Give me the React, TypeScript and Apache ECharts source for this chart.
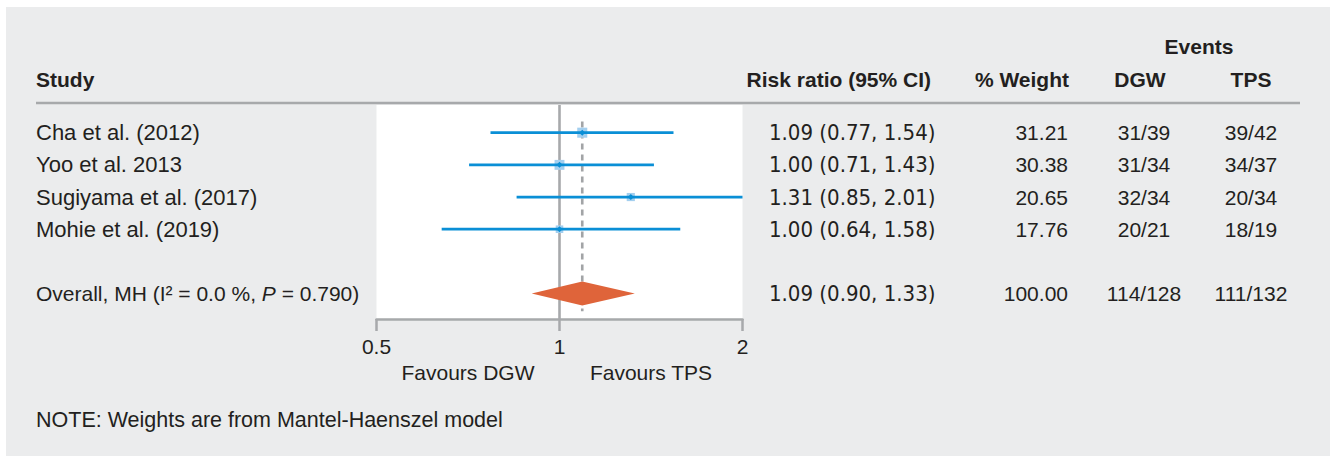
import React, { useEffect, useRef } from "react";
import * as echarts from "echarts";

// ---- data ----
const studies = ["Cha et al. (2012)", "Yoo et al. 2013", "Sugiyama et al. (2017)", "Mohie et al. (2019)"];
const riskRatio = [1.09, 1.0, 1.31, 1.0];
const ciLow = [0.77, 0.71, 0.85, 0.64];
const ciHigh = [1.54, 1.43, 2.01, 1.58];
const weights = [31.21, 30.38, 20.65, 17.76];
const eventsDGW = ["31/39", "31/34", "32/34", "20/21"];
const eventsTPS = ["39/42", "34/37", "20/34", "18/19"];

const overallLabel = "Overall, MH (I\u00B2 = 0.0 %, {i|P} = 0.790)";
const overallRR = 1.09;
const overallLow = 0.9;
const overallHigh = 1.33;
const overallWeight = 100.0;
const overallDGW = "114/128";
const overallTPS = "111/132";

const xTicks = [0.5, 1, 2];
const nullValue = 1;
const overallRow = 5;

// ---- style ----
const FONT = "'Liberation Sans', Arial, sans-serif";
const NUM_FONT = "'Liberation Sans Narrow', 'DejaVu Sans Condensed', sans-serif";
const TEXT = "#231f20";
const GRAY = "#a7a9ab";
const BLUE = "#0a8fd6";
const LIGHT = "#a3cfef";
const ORANGE = "#df643a";
const FS = 21;
const FS_LABEL = 22;

const X_MIN = xTicks[0];
const X_MAX = xTicks[xTicks.length - 1];
const Y_MIN = -0.86;
const Y_MAX = 5.79;

export default function App() {
  const ref = useRef<HTMLDivElement>(null);

  useEffect(() => {
    if (!ref.current) return;
    const chart = echarts.init(ref.current, null, { renderer: "svg" });

    const fmt = (v: number) => v.toFixed(2);
    const tableRows = studies.map((s, i) => ({
      label: s,
      size: FS_LABEL,
      rr: `${fmt(riskRatio[i])} (${fmt(ciLow[i])}, ${fmt(ciHigh[i])})`,
      w: fmt(weights[i]),
      dgw: eventsDGW[i],
      tps: eventsTPS[i],
      row: i,
    }));
    tableRows.push({
      label: overallLabel,
      size: FS,
      rr: `${fmt(overallRR)} (${fmt(overallLow)}, ${fmt(overallHigh)})`,
      w: fmt(overallWeight),
      dgw: overallDGW,
      tps: overallTPS,
      row: overallRow,
    });

    const txt = (text: string, x: number, y: number, align: string, opts: any = {}) => ({
      type: "text",
      x,
      y,
      style: {
        text,
        fill: TEXT,
        fontSize: FS,
        fontFamily: FONT,
        align,
        verticalAlign: "middle",
        ...opts,
      },
    });

    const bold = { fontWeight: "bold" };

    chart.setOption({
      animation: false,
      backgroundColor: "transparent",
      grid: {
        left: 376.5,
        right: 1330 - 742.5,
        top: 105,
        bottom: 456 - 319,
        show: true,
        backgroundColor: "#ffffff",
        borderWidth: 0,
      },
      xAxis: {
        type: "log",
        logBase: 2,
        min: X_MIN,
        max: X_MAX,
        position: "bottom",
        axisLine: { show: true, onZero: false, lineStyle: { color: GRAY, width: 2.5 } },
        axisTick: { show: true, length: 12, lineStyle: { color: GRAY, width: 2.5 } },
        axisLabel: {
          color: TEXT,
          fontSize: FS,
          fontFamily: FONT,
          margin: 17,
          formatter: (v: number) => String(v),
        },
        splitLine: { show: false },
      },
      yAxis: {
        type: "value",
        min: Y_MIN,
        max: Y_MAX,
        inverse: true,
        show: false,
        splitLine: { show: false },
      },
      graphic: [
        {
          type: "line",
          shape: { x1: 36, y1: 103, x2: 1300, y2: 103 },
          style: { stroke: GRAY, lineWidth: 2.5 },
          z: 10,
        },
        txt("Events", 1199, 46, "center", bold),
        txt("Study", 36, 79, "left", bold),
        txt("Risk ratio (95% CI)", 931, 79, "right", bold),
        txt("% Weight", 1069, 79, "right", bold),
        txt("DGW", 1140, 79, "center", bold),
        txt("TPS", 1251, 79, "center", bold),
        txt("Favours DGW", 468, 372, "center"),
        txt("Favours TPS", 651, 372, "center"),
        txt("NOTE: Weights are from Mantel-Haenszel model", 36, 420, "left", { fontSize: 21.5 }),
      ],
      series: [
        // reference lines and overall diamond
        {
          type: "custom",
          coordinateSystem: "cartesian2d",
          encode: { x: 1, y: 0 },
          data: [[overallRow, overallRR, overallLow, overallHigh]],
          renderItem: (params: any, api: any) => {
            const row = api.value(0);
            const est = api.value(1);
            const lo = api.value(2);
            const hi = api.value(3);
            const nTop = api.coord([nullValue, Y_MIN]);
            const nBot = api.coord([nullValue, Y_MAX]);
            const dTop = api.coord([est, -0.35]);
            const dBot = api.coord([est, 5.55]);
            const c = api.coord([est, row]);
            const l = api.coord([lo, row]);
            const h = api.coord([hi, row]);
            return {
              type: "group",
              children: [
                {
                  type: "line",
                  shape: { x1: nTop[0], y1: nTop[1], x2: nBot[0], y2: nBot[1] },
                  style: { stroke: GRAY, lineWidth: 2.6 },
                },
                {
                  type: "line",
                  shape: { x1: dTop[0], y1: dTop[1], x2: dBot[0], y2: dBot[1] },
                  style: { stroke: "#a2a4a6", lineWidth: 2.6, lineDash: [6, 5] },
                },
                {
                  type: "polygon",
                  shape: {
                    points: [
                      [l[0], c[1]],
                      [c[0], c[1] - 12],
                      [h[0], c[1]],
                      [c[0], c[1] + 12],
                    ],
                  },
                  style: { fill: ORANGE },
                },
              ],
            };
          },
          z: 2,
        },
        // study estimates
        {
          type: "custom",
          coordinateSystem: "cartesian2d",
          encode: { x: 1, y: 0 },
          data: studies.map((_, i) => [i, riskRatio[i], ciLow[i], ciHigh[i], weights[i]]),
          renderItem: (params: any, api: any) => {
            const row = api.value(0);
            const est = api.value(1);
            const lo = Math.max(api.value(2), X_MIN);
            const hi = Math.min(api.value(3), X_MAX);
            const w = api.value(4);
            const c = api.coord([est, row]);
            const l = api.coord([lo, row]);
            const h = api.coord([hi, row]);
            const s = 1.8 * Math.sqrt(w);
            const d = 3;
            return {
              type: "group",
              children: [
                {
                  type: "rect",
                  shape: { x: c[0] - s / 2, y: c[1] - s / 2, width: s, height: s },
                  style: { fill: LIGHT },
                },
                {
                  type: "line",
                  shape: { x1: l[0], y1: c[1], x2: h[0], y2: c[1] },
                  style: { stroke: BLUE, lineWidth: 2.7 },
                },
                {
                  type: "polygon",
                  shape: {
                    points: [
                      [c[0] - d, c[1]],
                      [c[0], c[1] - d],
                      [c[0] + d, c[1]],
                      [c[0], c[1] + d],
                    ],
                  },
                  style: { fill: BLUE },
                },
              ],
            };
          },
          z: 3,
        },
        // table texts
        {
          type: "custom",
          coordinateSystem: "cartesian2d",
          encode: { x: 0, y: 1 },
          clip: false,
          data: tableRows.map((r) => [nullValue, r.row]),
          renderItem: (params: any, api: any) => {
            const r = tableRows[params.dataIndex];
            const y = api.coord([nullValue, api.value(1)])[1];
            const t = (text: string, x: number, align: string, extra: any = {}) => ({
              type: "text",
              x,
              y,
              style: {
                text,
                fill: TEXT,
                fontSize: FS,
                fontFamily: FONT,
                align,
                verticalAlign: "middle",
                ...extra,
              },
            });
            return {
              type: "group",
              children: [
                t(r.label, 36, "left", {
                  fontSize: r.size,
                  rich: { i: { fontStyle: "italic", fontSize: r.size, fontFamily: FONT, fill: TEXT } },
                }),
                t(r.rr, 769, "left", { fontFamily: NUM_FONT, fontSize: 22 }),
                t(r.w, 1068, "right"),
                t(r.dgw, 1144, "center"),
                t(r.tps, 1251, "center"),
              ],
            };
          },
          z: 4,
        },
      ],
    });

    return () => chart.dispose();
  }, []);

  return (
    <div style={{ position: "fixed", left: 0, top: 0, width: 1330, height: 456, background: "#ffffff" }}>
      <div style={{ position: "absolute", left: 6, top: 7, right: 0, bottom: 0, background: "#ebeced" }} />
      <div ref={ref} style={{ position: "absolute", left: 0, top: 0, width: 1330, height: 456 }} />
    </div>
  );
}
